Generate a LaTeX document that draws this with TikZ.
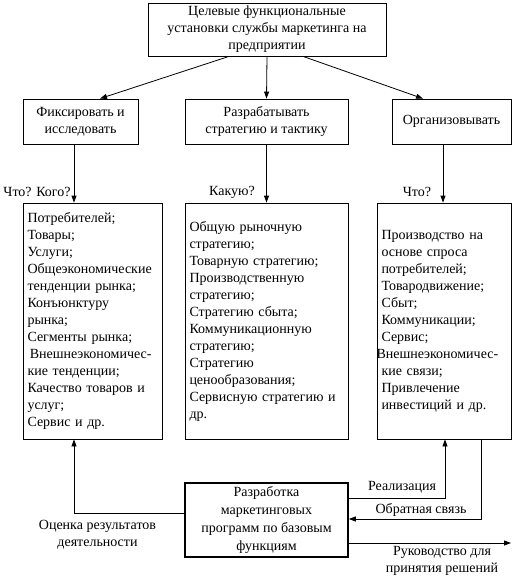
\documentclass[tikz,border=0pt]{standalone}
\usepackage{fontspec}
\setmainfont{Liberation Serif}
\usetikzlibrary{arrows.meta}

\tikzset{
  box/.style={draw, line width=0.8pt, align=center, inner sep=2pt},
  listbox/.style={draw, line width=0.8pt, align=left, inner xsep=4.5pt, minimum height=236pt},
  arr/.style={line width=0.8pt, -{Triangle[length=7pt,width=5pt]}},
  lbl/.style={inner sep=0pt, align=center},
}

\begin{document}
\begin{tikzpicture}[x=1pt,y=-1pt,font=\fontsize{14}{17}\selectfont]
        \useasboundingbox (0,0) rectangle (513,580);

        % top level
        \node[box, minimum width=238pt, minimum height=53pt] (goal) at (267,29.5)
          {Целевые функциональные\\установки службы маркетинга на\\предприятии};

        % three functions
        \node[box, minimum width=115pt, minimum height=45pt] (fix) at (80.5,121.5) {Фиксировать и\\исследовать};
        \node[box, minimum width=163pt, minimum height=45pt] (dev) at (266.5,121.5) {Разрабатывать\\стратегию и тактику};
        \node[box, minimum width=119pt, minimum height=45pt] (org) at (451.5,121.5) {Организовывать};

        \draw[arr] ([xshift=-38pt]goal.south) -- ([xshift=19.5pt]fix.north);
        \draw[arr] (goal.south) -- (dev.north);
        \draw[arr] ([xshift=36pt]goal.south) -- ([xshift=-28.5pt]org.north);

        % lists
        \node[listbox, text width=130pt] (fixlist) at (92.5,321)
          {Потребителей;\\Товары;\\Услуги;\\Общеэкономические\\тенденции рынка;\\Конъюнктуру\\рынка;\\Сегменты рынка;\\
           \,Внешнеэкономичес-\\кие тенденции;\\Качество товаров и\\услуг;\\Сервис и др.};
        \node[listbox, text width=154pt] (devlist) at (266.5,321)
          {Общую рыночную\\стратегию;\\Товарную стратегию;\\Производственную\\стратегию;\\Стратегию сбыта;\\
           Коммуникационную\\стратегию;\\Стратегию\\ценообразования;\\Сервисную стратегию и\\др.};
        \node[listbox, text width=125pt] (orglist) at (444,321)
          {Производство на\\основе спроса\\потребителей;\\Товародвижение;\\Сбыт;\\Коммуникации;\\Сервис;\\
           \hspace*{-5pt}Внешнеэкономичес-\\кие связи;\\Привлечение\\инвестиций и др.};

        \draw[arr] ([xshift=-6.5pt]fix.south) -- ([xshift=-6.5pt]fix.south |- fixlist.north);
        \draw[arr] (dev.south) -- (devlist.north);
        \draw[arr] ([xshift=-8.5pt]org.south) -- ([xshift=-8.5pt]org.south |- orglist.north);

        \node[lbl] (q1) at (37,192) {Что? Кого?};
        \node[lbl] (q2) at (232,192) {Какую?};
        \node[lbl] (q3) at (417,192) {Что?};

        % programmes
        \node[box, line width=1.6pt, minimum width=163pt, minimum height=74pt, inner sep=1pt, font=\fontsize{14}{18}\selectfont] (prog) at (266.5,520)
          {Разработка\\маркетинговых\\программ по базовым\\функциям};

        \coordinate (out) at (511,543);
        \draw[arr] ([yshift=7pt]prog.west) -| ([xshift=-18.5pt]fixlist.south);
        \draw[arr] ([yshift=22pt]prog.east) -| ([xshift=1pt]orglist.south);
        \draw[arr] ([xshift=37pt]orglist.south) |- ([yshift=1pt]prog.east);
        \draw[arr] ([yshift=-23pt]prog.east) -- (out);

        \node[lbl] (real) at (402,487) {Реализация};
        \node[lbl] (back) at (421,510) {Обратная связь};
        \node[lbl] (eval) at (97.5,535) {Оценка результатов\\деятельности};
        \node[lbl] (lead) at (442,561) {Руководство для\\принятия решений};
\end{tikzpicture}
\end{document}
